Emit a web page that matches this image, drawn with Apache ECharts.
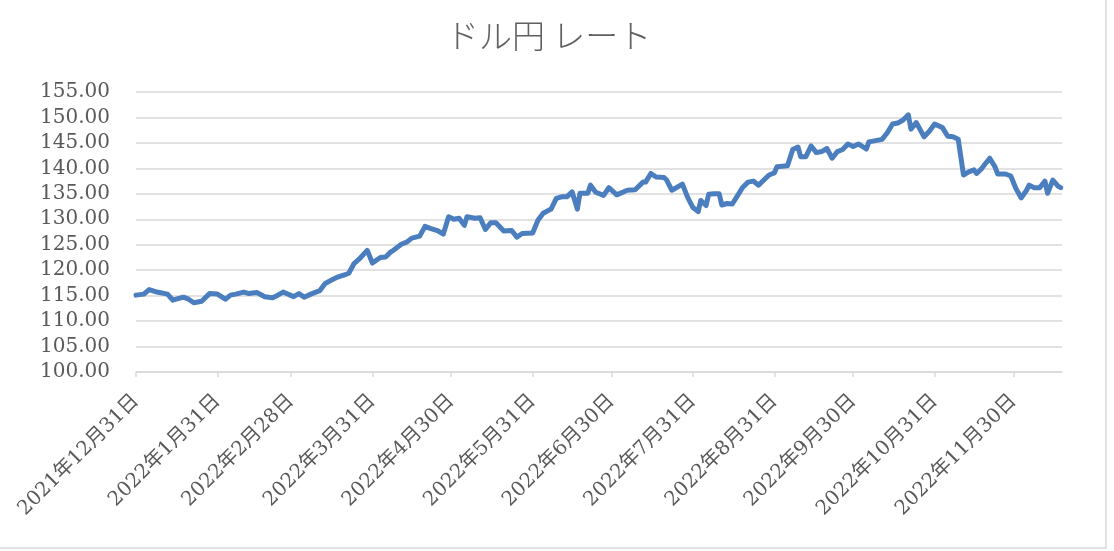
<!DOCTYPE html>
<html><head><meta charset="utf-8">
<script src="https://cdn.jsdelivr.net/npm/echarts@6/dist/echarts.min.js"></script>
<style>html,body{margin:0;padding:0;background:#fff}#c{width:1114px;height:551px}</style>
</head><body><div id="c"></div>
<script>
const titleText = 'ドル円 レート';
const dates = [
'2021-12-31','2022-01-03','2022-01-05','2022-01-08','2022-01-12','2022-01-14','2022-01-18','2022-01-20','2022-01-22','2022-01-25','2022-01-28','2022-01-31',
'2022-02-03','2022-02-05','2022-02-07','2022-02-10','2022-02-12','2022-02-15','2022-02-18','2022-02-21','2022-02-23','2022-02-25',
'2022-03-01','2022-03-03','2022-03-05','2022-03-08','2022-03-11','2022-03-13','2022-03-16','2022-03-18','2022-03-21','2022-03-22','2022-03-24','2022-03-26','2022-03-29','2022-03-31',
'2022-04-03','2022-04-05','2022-04-07','2022-04-08','2022-04-11','2022-04-13','2022-04-15','2022-04-18','2022-04-20','2022-04-22','2022-04-25','2022-04-27','2022-04-29',
'2022-05-01','2022-05-03','2022-05-05','2022-05-06','2022-05-09','2022-05-11','2022-05-13','2022-05-15','2022-05-17','2022-05-20','2022-05-23','2022-05-25','2022-05-27','2022-05-31',
'2022-06-02','2022-06-04','2022-06-07','2022-06-09','2022-06-11','2022-06-13','2022-06-15','2022-06-17','2022-06-18','2022-06-21','2022-06-22','2022-06-24','2022-06-27','2022-06-29',
'2022-07-02','2022-07-06','2022-07-09','2022-07-12','2022-07-13','2022-07-15','2022-07-17','2022-07-20','2022-07-21','2022-07-23','2022-07-27','2022-07-29','2022-07-31',
'2022-08-02','2022-08-03','2022-08-05','2022-08-06','2022-08-08','2022-08-10','2022-08-11','2022-08-13','2022-08-15','2022-08-19','2022-08-21','2022-08-23','2022-08-25','2022-08-27','2022-08-29','2022-08-31',
'2022-09-01','2022-09-05','2022-09-07','2022-09-09','2022-09-10','2022-09-12','2022-09-14','2022-09-16','2022-09-18','2022-09-20','2022-09-22','2022-09-24','2022-09-26','2022-09-28','2022-09-30',
'2022-10-02','2022-10-05','2022-10-06','2022-10-09','2022-10-11','2022-10-13','2022-10-15','2022-10-17','2022-10-19','2022-10-21','2022-10-22','2022-10-24','2022-10-27','2022-10-29','2022-10-31',
'2022-11-03','2022-11-05','2022-11-07','2022-11-09','2022-11-11','2022-11-13','2022-11-15','2022-11-16','2022-11-18','2022-11-19','2022-11-21','2022-11-23','2022-11-24','2022-11-27','2022-11-29',
'2022-12-01','2022-12-03','2022-12-05','2022-12-06','2022-12-08','2022-12-10','2022-12-12','2022-12-13','2022-12-15','2022-12-17','2022-12-18'
];
const rates = [
115.1,115.3,116.2,115.7,115.3,114.1,114.7,114.3,113.6,113.9,115.4,115.3,
114.3,115.1,115.3,115.7,115.4,115.6,114.8,114.6,115.1,115.7,
114.8,115.4,114.7,115.4,116.0,117.4,118.2,118.7,119.2,119.4,121.3,122.2,123.9,121.4,
122.5,122.6,123.6,123.9,125.1,125.5,126.3,126.7,128.6,128.2,127.7,127.1,130.5,
130.0,130.2,128.8,130.5,130.2,130.3,128.0,129.3,129.3,127.7,127.8,126.5,127.2,127.3,
129.8,131.2,132.0,134.1,134.4,134.4,135.4,132.0,135.1,135.1,136.7,135.3,134.7,136.2,
134.8,135.7,135.8,137.3,137.3,139.0,138.3,138.2,137.7,135.7,136.9,134.3,132.3,
131.5,133.7,132.7,134.9,135.0,135.0,132.8,133.1,133.0,136.3,137.3,137.5,136.7,137.7,138.7,139.1,
140.3,140.5,143.7,144.2,142.3,142.3,144.4,143.1,143.3,143.9,142.0,143.3,143.7,144.8,144.3,
144.8,143.8,145.2,145.5,145.7,147.0,148.7,148.9,149.5,150.5,147.7,149.0,146.2,147.3,148.7,
148.0,146.3,146.2,145.7,138.7,139.3,139.7,139.0,140.0,140.7,142.0,140.3,138.9,138.9,138.5,
136.0,134.2,135.7,136.7,136.2,136.2,137.5,135.1,137.7,136.5,136.2
];
const tickDates = ['2021-12-31','2022-01-31','2022-02-28','2022-03-31','2022-04-30','2022-05-31','2022-06-30','2022-07-31','2022-08-31','2022-09-30','2022-10-31','2022-11-30'];
const xStart = '2021-12-31';
const xEndDays = 352.5;
const yMin = 100, yMax = 155, yStep = 5;

const DAY = 86400000;
function utc(s){ const m = s.split('-'); return Date.UTC(+m[0], +m[1]-1, +m[2]); }
const t0 = utc(xStart);
function dayOf(s){ return Math.round((utc(s) - t0) / DAY); }
const tickDays = tickDates.map(dayOf);
const seriesData = dates.map((d,i)=>[dayOf(d), rates[i]]);
function labelOf(v){
  if (tickDays.indexOf(Math.round(v)) < 0) return '';
  const d = new Date(t0 + Math.round(v)*DAY);
  return d.getUTCFullYear()+'年'+(d.getUTCMonth()+1)+'月'+d.getUTCDate()+'日';
}
const serif = 'DejaVu Serif, Liberation Serif, Noto Sans CJK JP, serif';

const chart = echarts.init(document.getElementById('c'), null, {renderer:'canvas'});
chart.setOption({
  animation:false,
  backgroundColor:'#fff',
  title:{text:titleText,left:441,top:14,textStyle:{fontFamily:'Noto Sans CJK JP',fontWeight:300,fontSize:33,color:'#606060'}},
  grid:{left:136,right:52,top:92,bottom:179,containLabel:false,outerBoundsMode:'none'},
  xAxis:{
    type:'value',min:0,max:xEndDays,interval:1,
    axisLine:{show:true,onZero:false,lineStyle:{color:'#d9d9d9',width:1.5}},
    axisTick:{show:true,length:5,lineStyle:{color:'#d9d9d9',width:1.5},customValues:tickDays},
    axisLabel:{rotate:45,margin:26,fontFamily:serif,fontSize:20,color:'#595959',formatter:labelOf,showMinLabel:true,showMaxLabel:false},
    splitLine:{show:false}
  },
  yAxis:{
    type:'value',min:yMin,max:yMax,interval:yStep,
    axisLine:{show:false},axisTick:{show:false},
    axisLabel:{margin:26,fontFamily:serif,fontSize:20,color:'#595959',formatter:v=>v.toFixed(2)},
    splitLine:{lineStyle:{color:'#d9d9d9',width:1.5}}
  },
  graphic:[{type:'rect',shape:{x:-2,y:-2,width:1108,height:550},style:{fill:'none',stroke:'#d9d9d9',lineWidth:1.5},silent:true}],
  series:[{type:'line',data:seriesData,showSymbol:false,symbol:'none',
    lineStyle:{color:'#4a7ebf',width:5,cap:'round',join:'round'}}]
});
</script></body></html>
